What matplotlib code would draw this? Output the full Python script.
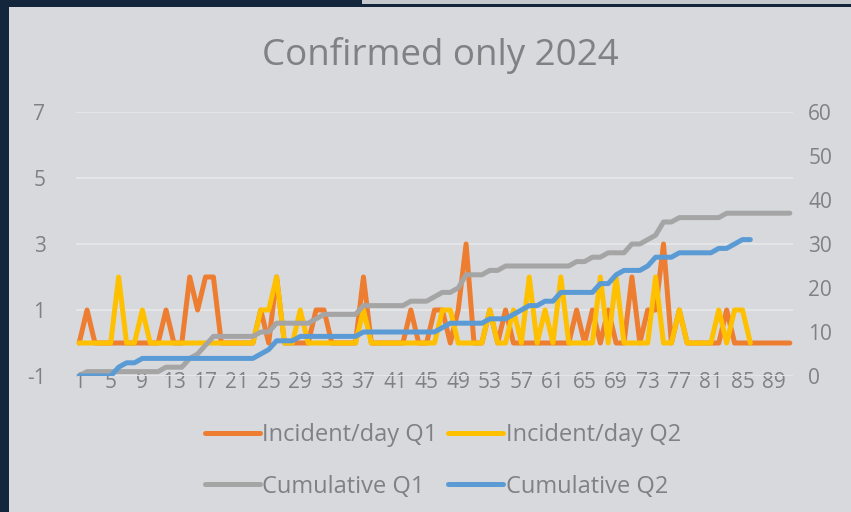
import matplotlib
matplotlib.use("Agg")
import matplotlib.pyplot as plt
from matplotlib.patches import Rectangle

plt.rcParams['font.family'] = ['Open Sans', 'DejaVu Sans']
plt.rcParams['axes.unicode_minus'] = False

# --- data ---
days_q1 = list(range(1, 92))
days_q2 = list(range(1, 87))

incident_q1 = [0] * 91
for d, v in {2: 1, 12: 1, 15: 2, 16: 1, 17: 2, 18: 2, 24: 1, 26: 2, 31: 1, 32: 1,
             37: 2, 43: 1, 46: 1, 47: 1, 49: 1, 50: 3, 53: 1, 55: 1, 64: 1, 66: 1,
             68: 1, 71: 2, 73: 1, 74: 1, 75: 3, 77: 1, 83: 1}.items():
    incident_q1[d - 1] = v

incident_q2 = [0] * 86
for d, v in {6: 2, 9: 1, 24: 1, 25: 1, 26: 2, 29: 1, 37: 1, 47: 1, 48: 1, 53: 1,
             56: 1, 58: 2, 60: 1, 62: 2, 67: 2, 69: 2, 74: 2, 77: 1, 82: 1, 84: 1,
             85: 1}.items():
    incident_q2[d - 1] = v

cumulative_q1 = ([0] + [1] * 10 + [2, 2, 2, 4, 5, 7, 9] + [9] * 5 + [10, 10]
                 + [12] * 5 + [13, 14, 14, 14, 14, 14] + [16] * 6 + [17, 17, 17]
                 + [18, 19, 19, 20, 23, 23, 23, 24, 24, 25] + [25] * 8
                 + [26, 26, 27, 27, 28, 28, 28, 30, 30, 31, 32, 35, 35]
                 + [36] * 6 + [37] * 9)

cumulative_q2 = ([0] * 5 + [2, 3, 3] + [4] * 15 + [5, 6, 8, 8, 8] + [9] * 8
                 + [10] * 10 + [11, 12, 12, 12, 12, 12, 13, 13, 13, 14, 15, 16, 16,
                 17, 17, 19, 19, 19, 19, 19, 21, 21, 23, 24, 24, 24, 25, 27, 27, 27]
                 + [28] * 5 + [29, 29, 30, 31, 31])

tick_days = list(range(1, 92, 4))

# --- figure ---
W, H = 851, 512
fig = plt.figure(figsize=(W / 100, H / 100), dpi=100, facecolor='#13263b')
fig.patches.append(Rectangle((9 / W, 0), 1 - 9 / W, 1 - 7 / H, transform=fig.transFigure,
                             facecolor='#d8d9dc', edgecolor='none', zorder=-10))
fig.patches.append(Rectangle((362 / W, 1 - 4 / H), 1 - 362 / W, 4 / H, transform=fig.transFigure,
                             facecolor='#c6c9cd', edgecolor='none', zorder=-10))

ax = fig.add_axes([76 / W, 1 - 376 / H, (793 - 76) / W, (376 - 112) / H])
ax.set_facecolor('none')
ax2 = ax.twinx()

txt = '#808187'
ax.plot(days_q1, incident_q1, color='#ed7d31', lw=3.6, solid_capstyle='round',
        solid_joinstyle='round', label='Incident/day Q1')
ax.plot(days_q2, incident_q2, color='#ffc000', lw=3.6, solid_capstyle='round',
        solid_joinstyle='round', label='Incident/day Q2')
ax2.plot(days_q1, cumulative_q1, color='#a5a5a5', lw=3.6, solid_capstyle='round',
         solid_joinstyle='round', label='Cumulative Q1')
ax2.plot(days_q2, cumulative_q2, color='#5b9bd5', lw=3.6, solid_capstyle='round',
         solid_joinstyle='round', label='Cumulative Q2')

ax.set_xlim(0.6, 91.4)
ax.set_ylim(-1, 7)
ax2.set_ylim(0, 60)
ax.set_yticks([-1, 1, 3, 5, 7])
ax2.set_yticks(range(0, 70, 10))
ax.set_xticks(tick_days)
ax.set_xticklabels([str(d) for d in tick_days])

ax.grid(axis='y', color='#e4e5e7', lw=1.5)
ax.set_axisbelow(True)
for a in (ax, ax2):
    for s in a.spines.values():
        s.set_visible(False)
ax.tick_params(axis='y', length=0, pad=22, labelsize=15, labelcolor=txt)
ax.tick_params(axis='x', length=0, pad=-3, labelsize=15, labelcolor=txt)
ax2.tick_params(axis='y', length=0, pad=11, labelsize=15, labelcolor=txt)

fig.text(440 / W, 1 - 56 / H, 'Confirmed only 2024', ha='center', va='center',
         fontsize=26.5, color=txt)

h1, l1 = ax.get_legend_handles_labels()
h2, l2 = ax2.get_legend_handles_labels()
handles = [h1[0], h2[0], h1[1], h2[1]]
labels = [l1[0], l2[0], l1[1], l2[1]]
fig.legend(handles, labels, ncol=2, loc='center', bbox_to_anchor=(443 / W, 1 - 461 / H),
           frameon=False, fontsize=17, labelcolor=txt, handlelength=2.3,
           handletextpad=0.12, columnspacing=0.45, labelspacing=1.15)

fig.savefig('out.png', dpi=100, facecolor=fig.get_facecolor())
